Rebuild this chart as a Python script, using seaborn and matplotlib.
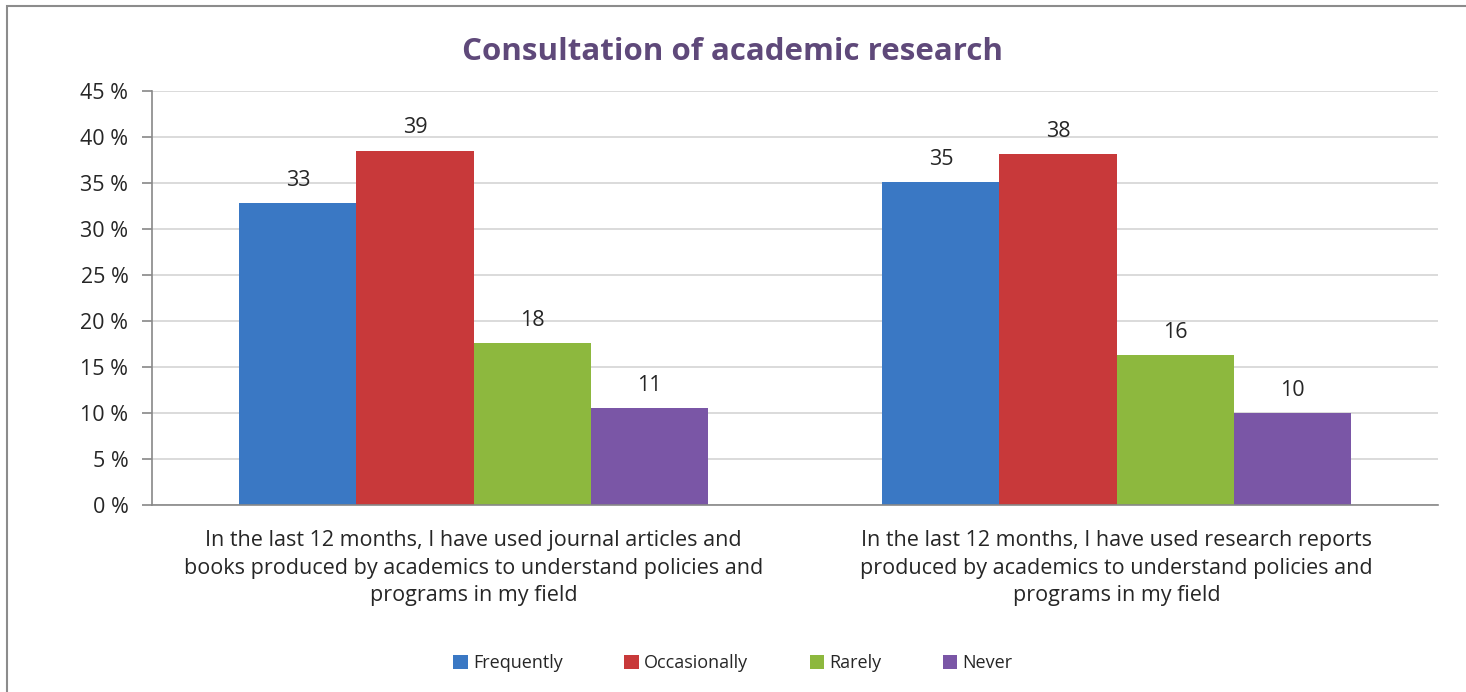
import pandas as pd
import matplotlib.pyplot as plt
import seaborn as sns
from matplotlib.patches import Rectangle

# Data
questions = [
    "In the last 12 months, I have used journal articles and\nbooks produced by academics to understand policies and\nprograms in my field",
    "In the last 12 months, I have used research reports\nproduced by academics to understand policies and\nprograms in my field",
]
answers = ["Frequently", "Occasionally", "Rarely", "Never"]
journal_values = [32.8, 38.5, 17.6, 10.5]
report_values = [35.1, 38.1, 16.3, 10.0]
journal_labels = ["33", "39", "18", "11"]
report_labels = ["35", "38", "16", "10"]
colors = ["#3A78C4", "#C8393A", "#8DB83E", "#7A56A6"]
yticks = [0, 5, 10, 15, 20, 25, 30, 35, 40, 45]

df = pd.DataFrame({
    "question": [questions[0]] * 4 + [questions[1]] * 4,
    "answer": answers * 2,
    "value": journal_values + report_values,
})

sns.set_style("white")
plt.rcParams["font.family"] = ["Open Sans", "DejaVu Sans"]

fig = plt.figure(figsize=(14.66, 6.92), dpi=100)
ax = fig.add_axes([152 / 1466, 1 - 505 / 692, (1438 - 152) / 1466, (505 - 91) / 692])

sns.barplot(data=df, x="question", y="value", hue="answer", order=questions,
            hue_order=answers, palette=colors, width=0.728, gap=0,
            saturation=1, edgecolor="none", ax=ax, legend=True)

# value labels above the bars
for cont, i in zip(ax.containers, range(len(answers))):
    labs = [journal_labels[i], report_labels[i]]
    ax.bar_label(cont, labels=labs, padding=9, fontsize=15.5)

ax.set_ylim(0, 45)
ax.set_xlim(-0.5, 1.5)
ax.set_yticks(yticks)
ax.set_yticklabels([f"{t} %" for t in yticks], fontsize=15.5)
ax.yaxis.grid(True, color="#D4D4D4", linewidth=1.2)
ax.set_axisbelow(True)

# x ticks between categories, labels centered
ax.set_xticks([0, 1])
ax.set_xticklabels(questions, fontsize=15.5, linespacing=1.42)
ax.set_xticks([-0.5, 0.5, 1.5], minor=True)
ax.tick_params(axis="x", which="major", length=0, pad=18)
ax.tick_params(axis="x", which="minor", length=7, color="#888888", width=1.2)
ax.tick_params(axis="y", length=7, color="#888888", width=1.2, left=True, pad=10)
ax.set_xlabel("")
ax.set_ylabel("")

for side in ["top", "right"]:
    ax.spines[side].set_visible(False)
for side in ["left", "bottom"]:
    ax.spines[side].set_color("#888888")
    ax.spines[side].set_linewidth(1.2)

fig.text(0.5, 1 - 52 / 692, "Consultation of academic research", ha="center",
         va="center", fontsize=22.5, fontweight="bold", color="#5F497A")

ax.legend(loc="center", bbox_to_anchor=(0.5, 1 - 663 / 692), bbox_transform=fig.transFigure,
          ncol=4, frameon=False, fontsize=13, handlelength=0.8, handleheight=0.8,
          handletextpad=0.3, columnspacing=3.4)

# outer chart frame
fig.patches.append(Rectangle((7 / 1466, -0.01), 1.02, 1 - 6 / 692 + 0.01, transform=fig.transFigure,
                             fill=False, edgecolor="#8C8C8C", linewidth=1.5, zorder=-1))

plt.savefig("out.png", dpi=100)
